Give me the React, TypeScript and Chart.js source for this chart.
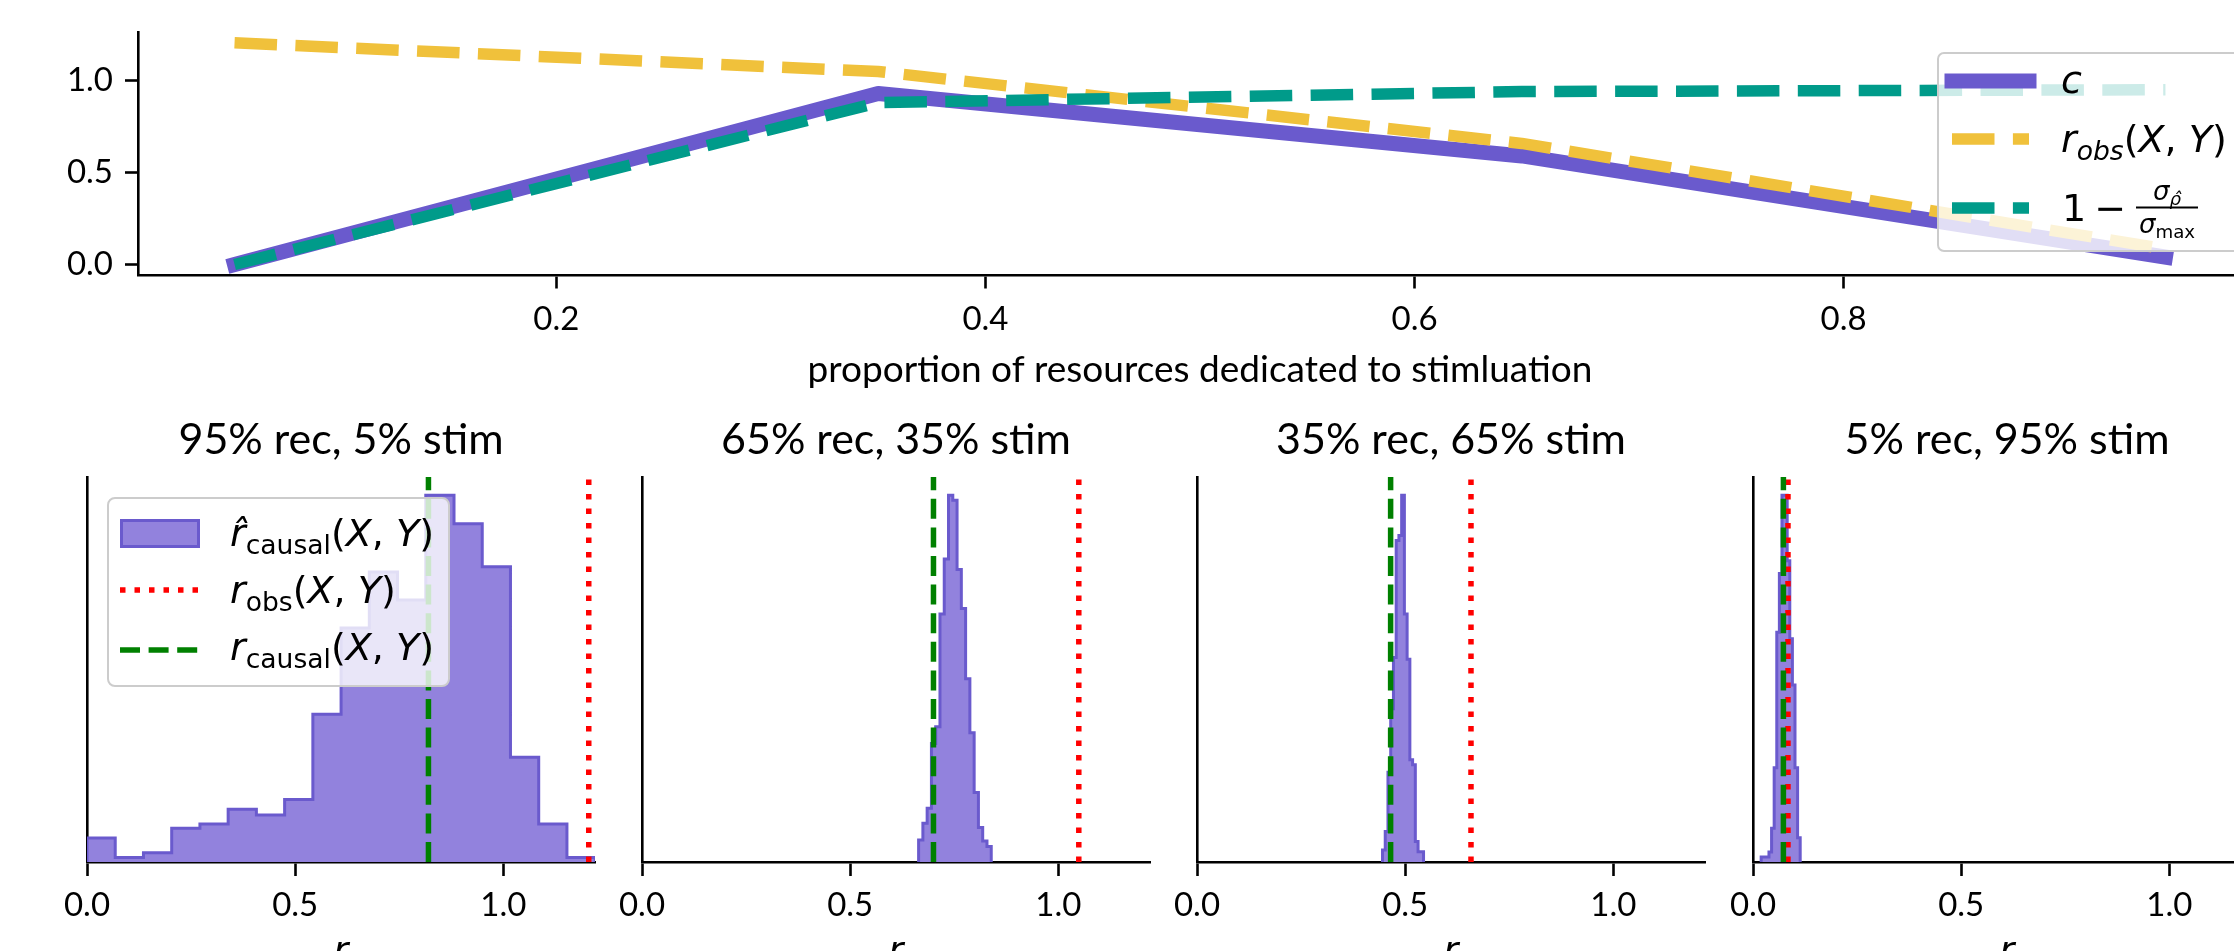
import React, { useEffect, useRef } from 'react';
import { Chart, registerables } from 'chart.js';

Chart.register(...registerables);

// ---------------- data ----------------
const stimProportion = [0.05, 0.35, 0.65, 0.95];
const cValues = [0.0, 0.93, 0.59, 0.04];
const rObsValues = [1.205, 1.049, 0.658, 0.084];
const sigmaRatioValues = [0.0, 0.88, 0.94, 0.95];
const rCausalValues = [0.82, 0.7, 0.465, 0.073];

const panelTitles = ['95% rec, 5% stim', '65% rec, 35% stim', '35% rec, 65% stim', '5% rec, 95% stim'];

const histStarts = [0.0, 0.6643, 0.4455, 0.0196];
const histBinWidths = [0.0678, 0.01026, 0.00657, 0.00625];
const histCounts95rec = [68, 13, 26, 96, 108, 150, 134, 178, 421, 666, 826, 746, 1044, 963, 841, 298, 108, 13];
const histCounts65rec = [66, 116, 161, 354, 404, 741, 906, 1096, 1081, 874, 758, 548, 386, 208, 103, 63, 46];
const histCounts35rec = [36, 91, 268, 458, 611, 961, 976, 1096, 741, 606, 306, 291, 61, 31, 31];
const histCounts5rec = [16, 16, 16, 31, 106, 296, 721, 906, 1151, 1151, 946, 701, 556, 296, 76];
const histCounts = [histCounts95rec, histCounts65rec, histCounts35rec, histCounts5rec];

const topXTicks = [0.2, 0.4, 0.6, 0.8];
const topYTicks = [0.0, 0.5, 1.0];
const bottomXTicks = [0.0, 0.5, 1.0];
const topXRange = [0.005, 0.995];
const topYRange = [-0.06, 1.265];
const bottomXRange = [0, 1.22];

const topXLabel = 'proportion of resources dedicated to stimluation';

// ---------------- styles ----------------
const PURPLE = '#6a5acd';
const YELLOW = '#f0c13b';
const TEAL = '#009b8a';
const HIST_FILL = '#9282dd';
const RED = '#ff0000';
const GREEN = '#008000';
const TICK_FONT = { family: 'Lato', size: 33 };
const AXIS_W = 2.6;
const LEGEND_SIZE = 38;

const panelSpineX = [87, 642, 1197, 1753];
const PANEL_MARGIN = 40;
const PANEL_W = 508;

function TopChart() {
  const ref = useRef<HTMLCanvasElement>(null);
  useEffect(() => {
    const mk = (vals: number[]) => stimProportion.map((x, i) => ({ x, y: vals[i] }));
    const chart = new Chart(ref.current as HTMLCanvasElement, {
      type: 'line',
      data: {
        datasets: [
          {
            label: 'c',
            data: mk(cValues),
            borderColor: PURPLE,
            borderWidth: 15,
            borderCapStyle: 'square',
            borderJoinStyle: 'round',
            pointRadius: 0,
            fill: false,
            order: 2,
          },
          {
            label: 'r_obs',
            data: mk(rObsValues),
            borderColor: YELLOW,
            borderWidth: 11.5,
            borderDash: [42.5, 18.4],
            borderCapStyle: 'butt',
            borderJoinStyle: 'round',
            pointRadius: 0,
            fill: false,
            order: 1,
          },
          {
            label: 'sigma',
            data: mk(sigmaRatioValues),
            borderColor: TEAL,
            borderWidth: 11.5,
            borderDash: [42.5, 18.4],
            borderCapStyle: 'butt',
            borderJoinStyle: 'round',
            pointRadius: 0,
            fill: false,
            order: 0,
          },
        ],
      } as any,
      options: {
        animation: false,
        responsive: false,
        devicePixelRatio: 1,
        layout: { padding: { top: 28, right: 38, left: 0, bottom: 0 } },
        plugins: { legend: { display: false }, tooltip: { enabled: false } },
        scales: {
          x: {
            type: 'linear',
            min: topXRange[0],
            max: topXRange[1],
            afterBuildTicks: (s: any) => {
              s.ticks = topXTicks.map((v) => ({ value: v }));
            },
            afterFit: (s: any) => {
              s.height = 124.5;
            },
            ticks: {
              callback: (v: any) => Number(v).toFixed(1),
              font: TICK_FONT,
              color: '#000',
              padding: 11,
              maxRotation: 0,
              autoSkip: false,
            },
            grid: { display: true, drawOnChartArea: false, drawTicks: true, tickLength: 13, tickWidth: AXIS_W, tickColor: '#000' },
            border: { display: true, color: '#000', width: AXIS_W },
            title: {
              display: true,
              text: topXLabel,
              font: { family: 'Lato', size: 37 },
              color: '#000',
              padding: { top: 0, bottom: 8 },
            },
          },
          y: {
            type: 'linear',
            min: topYRange[0],
            max: topYRange[1],
            afterBuildTicks: (s: any) => {
              s.ticks = topYTicks.map((v) => ({ value: v }));
            },
            afterFit: (s: any) => {
              s.width = 138;
            },
            ticks: {
              callback: (v: any) => Number(v).toFixed(1),
              font: TICK_FONT,
              color: '#000',
              padding: 12,
              autoSkip: false,
            },
            grid: { display: true, drawOnChartArea: false, drawTicks: true, tickLength: 13, tickWidth: AXIS_W, tickColor: '#000' },
            border: { display: true, color: '#000', width: AXIS_W },
          },
        },
      } as any,
    });
    return () => chart.destroy();
  }, []);
  return (
    <canvas
      ref={ref}
      width={2300}
      height={400}
      style={{ position: 'absolute', left: 0, top: 0, width: 2300, height: 400 }}
    />
  );
}

function HistPanel({ index }: { index: number }) {
  const ref = useRef<HTMLCanvasElement>(null);
  useEffect(() => {
    const counts = histCounts[index];
    const start = histStarts[index];
    const w = histBinWidths[index];
    const pts: { x: number; y: number }[] = [{ x: start, y: 0 }];
    counts.forEach((c, k) => pts.push({ x: start + k * w, y: c }));
    pts.push({ x: start + counts.length * w, y: 0 });
    const yMax = Math.max(...counts) * 1.05;
    const rObs = rObsValues[index];
    const rCausal = rCausalValues[index];
    const chart = new Chart(ref.current as HTMLCanvasElement, {
      type: 'line',
      data: {
        datasets: [
          {
            label: 'hist',
            data: pts,
            stepped: 'before',
            borderColor: PURPLE,
            borderWidth: 3,
            backgroundColor: HIST_FILL,
            fill: 'origin',
            pointRadius: 0,
            order: 2,
          },
          {
            label: 'r_obs',
            data: [
              { x: rObs, y: 0 },
              { x: rObs, y: yMax },
            ],
            borderColor: RED,
            borderWidth: 5.5,
            borderDash: [5.5, 9],
            borderCapStyle: 'butt',
            pointRadius: 0,
            fill: false,
            order: 1,
          },
          {
            label: 'r_causal',
            data: [
              { x: rCausal, y: 0 },
              { x: rCausal, y: yMax },
            ],
            borderColor: GREEN,
            borderWidth: 5.5,
            borderDash: [20, 8.6],
            borderCapStyle: 'butt',
            pointRadius: 0,
            fill: false,
            order: 0,
          },
        ],
      } as any,
      options: {
        animation: false,
        responsive: false,
        devicePixelRatio: 1,
        layout: { padding: { top: 0, right: PANEL_MARGIN, left: PANEL_MARGIN, bottom: 0 } },
        plugins: {
          legend: { display: false },
          tooltip: { enabled: false },
          title: {
            display: true,
            text: panelTitles[index],
            font: { family: 'Lato', size: 43, weight: 'normal' },
            color: '#000',
            padding: { top: 14.5, bottom: 10.9 },
          },
        },
        scales: {
          x: {
            type: 'linear',
            min: bottomXRange[0],
            max: bottomXRange[1],
            z: 1,
            afterBuildTicks: (s: any) => {
              s.ticks = bottomXTicks.map((v) => ({ value: v }));
            },
            afterFit: (s: any) => {
              s.height = 158;
            },
            ticks: {
              callback: (v: any) => Number(v).toFixed(1),
              font: TICK_FONT,
              color: '#000',
              padding: 10,
              maxRotation: 0,
              autoSkip: false,
            },
            grid: { display: true, drawOnChartArea: false, drawTicks: true, tickLength: 14, tickWidth: AXIS_W, tickColor: '#000' },
            border: { display: true, color: '#000', width: AXIS_W },
            title: {
              display: true,
              text: 'r',
              font: { family: 'DejaVu Sans', style: 'italic', size: 36 },
              color: '#000',
              padding: { top: 0, bottom: 46 },
            },
          },
          y: {
            type: 'linear',
            min: 0,
            max: yMax,
            afterFit: (s: any) => {
              s.width = 0;
            },
            ticks: { display: false },
            grid: { display: true, drawOnChartArea: false, drawTicks: false },
            border: { display: true, color: '#000', width: AXIS_W },
          },
        },
      } as any,
    });
    return () => chart.destroy();
  }, [index]);
  const left = panelSpineX[index] - PANEL_MARGIN;
  const width = PANEL_W + 2 * PANEL_MARGIN;
  return (
    <canvas
      ref={ref}
      width={width}
      height={620}
      style={{ position: 'absolute', left, top: 400, width, height: 620 }}
    />
  );
}

const mathFont = "'DejaVu Sans', sans-serif";

function Row({ left, cy, size, children }: { left: number; cy: number; size: number; children: any }) {
  return (
    <div
      style={{
        position: 'absolute',
        left,
        top: cy,
        transform: 'translateY(-50%)',
        display: 'flex',
        alignItems: 'center',
        whiteSpace: 'nowrap',
        fontFamily: mathFont,
        fontSize: size,
        lineHeight: 1,
        color: '#000',
      }}
    >
      {children}
    </div>
  );
}

const XY = (
  <span>
    (<i>X</i>, <i>Y</i>)
  </span>
);

const subStyle = { fontSize: '0.7em', position: 'relative' as const, top: '0.3em' };

function TopLegend() {
  return (
    <>
      <div
        style={{
          position: 'absolute',
          left: 1937,
          top: 52,
          width: 360,
          height: 200,
          boxSizing: 'border-box',
          border: '2.5px solid #cccccc',
          borderRadius: 7,
          background: 'rgba(255,255,255,0.8)',
        }}
      />
      <svg style={{ position: 'absolute', left: 1930, top: 40 }} width={130} height={230}>
        <line x1={22} x2={99} y1={41} y2={41} stroke={PURPLE} strokeWidth={15} strokeLinecap="square" />
        <line x1={22} x2={99} y1={99} y2={99} stroke={YELLOW} strokeWidth={11.5} strokeDasharray="42.5 18.4" />
        <line x1={22} x2={99} y1={168} y2={168} stroke={TEAL} strokeWidth={11.5} strokeDasharray="42.5 18.4" />
      </svg>
      <Row left={2061} cy={80} size={LEGEND_SIZE}>
        <i>c</i>
      </Row>
      <Row left={2061} cy={139} size={LEGEND_SIZE}>
        <span style={{ display: 'flex', alignItems: 'baseline' }}>
          <i>r</i>
          <i style={subStyle}>obs</i>
          {XY}
        </span>
      </Row>
      <Row left={2062} cy={207} size={LEGEND_SIZE}>
        <span>1</span>
        <span style={{ marginLeft: 8 }}>−</span>
        <span
          style={{
            marginLeft: 10,
            display: 'inline-flex',
            flexDirection: 'column',
            alignItems: 'center',
            fontSize: 26,
          }}
        >
          <span style={{ paddingBottom: 3 }}>
            <i>σ</i>
            <i style={subStyle}>ρ̂</i>
          </span>
          <span style={{ borderTop: '2.6px solid #000', paddingTop: 2, width: 62, textAlign: 'center' }}>
            <i>σ</i>
            <span style={subStyle}>max</span>
          </span>
        </span>
      </Row>
    </>
  );
}

function BottomLegend() {
  return (
    <>
      <div
        style={{
          position: 'absolute',
          left: 107,
          top: 497,
          width: 343,
          height: 190,
          boxSizing: 'border-box',
          border: '2.5px solid #cccccc',
          borderRadius: 8,
          background: 'rgba(255,255,255,0.8)',
        }}
      />
      <svg style={{ position: 'absolute', left: 107, top: 497 }} width={110} height={190}>
        <rect x={14.5} y={23.5} width={77} height={26} fill={HIST_FILL} stroke={PURPLE} strokeWidth={3} />
        <line x1={13} x2={93} y1={93} y2={93} stroke={RED} strokeWidth={5.5} strokeDasharray="5.5 9" />
        <line x1={13} x2={93} y1={153} y2={153} stroke={GREEN} strokeWidth={5.5} strokeDasharray="20 8.6" />
      </svg>
      <Row left={230} cy={533} size={LEGEND_SIZE}>
        <span style={{ display: 'flex', alignItems: 'baseline' }}>
          <i>r̂</i>
          <span style={subStyle}>causal</span>
          {XY}
        </span>
      </Row>
      <Row left={230} cy={590} size={LEGEND_SIZE}>
        <span style={{ display: 'flex', alignItems: 'baseline' }}>
          <i>r</i>
          <span style={subStyle}>obs</span>
          {XY}
        </span>
      </Row>
      <Row left={230} cy={647} size={LEGEND_SIZE}>
        <span style={{ display: 'flex', alignItems: 'baseline' }}>
          <i>r</i>
          <span style={subStyle}>causal</span>
          {XY}
        </span>
      </Row>
    </>
  );
}

export default function App() {
  return (
    <div
      style={{
        position: 'fixed',
        left: 0,
        top: 0,
        width: 2234,
        height: 951,
        overflow: 'hidden',
        background: '#ffffff',
      }}
    >
      <TopChart />
      {[0, 1, 2, 3].map((i) => (
        <HistPanel key={i} index={i} />
      ))}
      <TopLegend />
      <BottomLegend />
    </div>
  );
}
